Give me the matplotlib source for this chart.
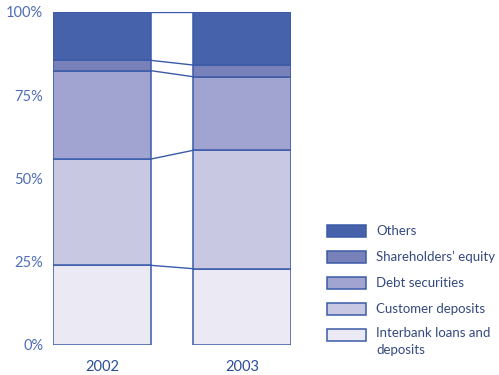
import matplotlib.pyplot as plt
from matplotlib.patches import Rectangle
import numpy as np

plt.rcParams['font.family'] = ['Lato', 'DejaVu Sans']

# Funding structure, share of total (%)
years = ['2002', '2003']
categories = ['Interbank loans and\ndeposits', 'Customer deposits', 'Debt securities',
              "Shareholders\u2019 equity", 'Others']
interbank = [23.9, 22.9]
customer = [31.9, 35.5]
debt = [26.5, 22.1]
equity = [3.1, 3.5]
others = [14.6, 16.0]
y_ticks = [0, 25, 50, 75, 100]
y_ticklabels = ['0%', '25%', '50%', '75%', '100%']

colors = ['#ebeaf4', '#c8c8e2', '#a1a4d0', '#7881b9', '#4662aa']
edge = '#3b5ba8'
tick_col = '#4f6db6'
text_col = '#34497f'

series = [interbank, customer, debt, equity, others]

fig = plt.figure(figsize=(4.99, 3.75), dpi=100)
W, H = 499, 375
ax = fig.add_axes([53 / W, 30 / H, 238 / W, 333.3 / H])

x = np.arange(len(years))
width = 0.7
bottom = np.zeros(len(years))
levels = []
for vals, col in zip(series, colors):
    ax.bar(x, vals, width, bottom=bottom, color=col, edgecolor=edge,
           linewidth=1.1, zorder=2)
    bottom = bottom + np.array(vals)
    levels.append(bottom.copy())

# connectors between the two columns at each cumulative level
for lv in levels:
    ax.plot([x[0] + width / 2, x[1] - width / 2], lv, color=edge, lw=1.0,
            zorder=1, solid_capstyle='butt')

ax.set_xlim(-width / 2, 1 + width / 2)
ax.set_ylim(0, 100)
for s in ax.spines.values():
    s.set_visible(False)
ax.set_yticks(y_ticks)
ax.set_yticklabels(y_ticklabels)
ax.tick_params(axis='y', length=0, pad=7, labelsize=10.5, labelcolor=tick_col)
ax.set_xticks(x)
ax.set_xticklabels(years)
ax.tick_params(axis='x', length=0, pad=11, labelsize=10.5, labelcolor='#2c4c96')

# legend, top entry first
for i, (lab, col) in enumerate(zip(categories[::-1], colors[::-1])):
    yc = 231 + 26 * i
    fig.add_artist(Rectangle((327 / W, (H - yc - 6) / H), 39 / W, 12 / H,
                             transform=fig.transFigure, facecolor=col,
                             edgecolor=edge, linewidth=1.1))
    if '\n' in lab:
        fig.text(376 / W, (H - yc + 8) / H, lab, fontsize=9.5, color=text_col,
                 va='top', ha='left', linespacing=1.5)
    else:
        fig.text(376 / W, (H - yc) / H, lab, fontsize=9.5, color=text_col,
                 va='center', ha='left')

fig.savefig('out.png', dpi=100)
